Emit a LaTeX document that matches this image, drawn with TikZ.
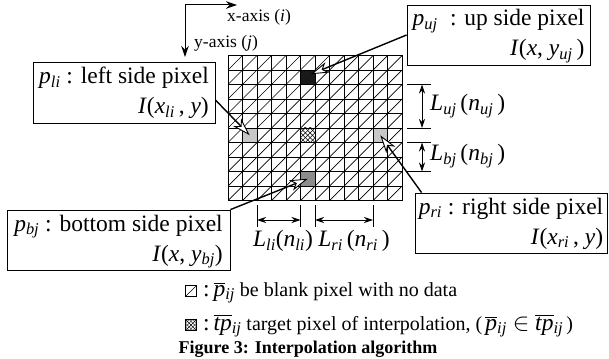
\documentclass[tikz,border=0pt]{standalone}
\usepackage{fontspec}
\setmainfont{Liberation Serif}
\usetikzlibrary{arrows.meta,calc}
\definecolor{lightcell}{RGB}{200,200,200}
\definecolor{midcell}{RGB}{140,140,140}
\definecolor{darkcell}{RGB}{25,25,25}
\newcommand\BigF{\fontsize{23.5}{30}\selectfont}
\newcommand\SmlF{\fontsize{20}{23}\selectfont}
\newcommand\AxF{\fontsize{17.5}{20}\selectfont}
\newcommand\isub[2]{\textit{#1}\textsubscript{\textit{#2}}}
\newcommand\obar[1]{$\overline{\hbox{\textit{#1}}}$}
\begin{document}
\begin{tikzpicture}[x=1pt,y=-1pt,
  gridln/.style={line width=0.8pt},
  diagln/.style={line width=0.7pt},
  cellbox/.style={draw, line width=0.8pt, minimum size=14.5pt, inner sep=0pt},
  box/.style={draw, line width=0.8pt, inner sep=0pt},
  conn/.style={line width=1.4pt, -{Stealth[length=18pt,width=11pt,inset=5pt,fill=white,line width=0.9pt]}},
  dim/.style={line width=1pt, {Stealth[length=9pt,width=6pt]}-{Stealth[length=9pt,width=6pt]}},
  ext/.style={line width=0.6pt},
  axis/.style={line width=1pt, -{Stealth[length=11pt,width=7.5pt]}},
  xhatch/.style={path picture={
     \foreach \k in {-2,...,2}{
       \draw[line width=0.5pt] ($(path picture bounding box.center)+(\k*4.83-14.5,14.5)$) -- ++(29,-29);
       \draw[line width=0.5pt] ($(path picture bounding box.center)+(\k*4.83-14.5,-14.5)$) -- ++(29,29);
     }}},
  slash/.style={path picture={\draw[line width=0.5pt] (path picture bounding box.south west) -- (path picture bounding box.north east);}},
]
\useasboundingbox (0,0) rectangle (609,358);
\def\s{14.5}\def\gx{228}\def\gy{55.5}
% grid diagonals
\foreach \c in {0,...,11}{\foreach \r in {0,...,9}{
  \draw[diagln] ({\gx+\c*\s},{\gy+(\r+1)*\s}) -- ({\gx+(\c+1)*\s},{\gy+\r*\s});}}
% grid lines
\foreach \c in {0,...,12}{\draw[gridln] ({\gx+\c*\s},\gy) -- ({\gx+\c*\s},{\gy+10*\s});}
\foreach \r in {0,...,10}{\draw[gridln] (\gx,{\gy+\r*\s}) -- ({\gx+12*\s},{\gy+\r*\s});}
% special cells
\node[cellbox, fill=darkcell] (pu) at ({\gx+5.5*\s},{\gy+1.5*\s}) {};
\node[cellbox, fill=lightcell] (pl) at ({\gx+1.5*\s},{\gy+5.5*\s}) {};
\node[cellbox, fill=lightcell] (pr) at ({\gx+10.5*\s},{\gy+5.5*\s}) {};
\node[cellbox, fill=midcell] (pb) at ({\gx+5.5*\s},{\gy+8.5*\s}) {};
\node[cellbox, fill=white, xhatch] (pt) at ({\gx+5.5*\s},{\gy+5.5*\s}) {};
% axes
\coordinate (o) at (185,5);
\coordinate (xe) at (237,5);
\coordinate (ye) at (185,57);
\draw[axis] (o) -- (xe);
\draw[axis] (o) -- (ye);
\node[anchor=west, font=\AxF, inner sep=0pt] (xl) at (227,17) {x-axis (\textit{i})};
\node[anchor=west, font=\AxF, inner sep=0pt] (yl) at (194,43) {y-axis (\textit{j})};
% boxes
\node[box, minimum width=182pt, minimum height=61pt] (lbox) at (124,92.5)
 {\BigF\begin{tabular}{@{}l@{}}\isub{p}{li} : left side pixel\\ \multicolumn{1}{@{}r@{}}{\textit{I}(\isub{x}{li}\,, \textit{y})}\end{tabular}};
\node[box, minimum width=183pt, minimum height=60pt] (ubox) at (498.5,35)
 {\BigF\begin{tabular}{@{}l@{}}\isub{p}{uj}\; : up side pixel\\ \multicolumn{1}{@{}r@{}}{\textit{I}(\textit{x}, \isub{y}{uj}\,)}\end{tabular}};
\node[box, minimum width=223pt, minimum height=56pt] (bbox) at (118.5,240)
 {\BigF\begin{tabular}{@{}l@{}}\isub{p}{bj} : bottom side pixel\\ \multicolumn{1}{@{}r@{}}{\textit{I}(\textit{x}, \isub{y}{bj})}\end{tabular}};
\node[box, minimum width=192pt, minimum height=60pt] (rbox) at (511,223)
 {\BigF\begin{tabular}{@{}l@{}}\isub{p}{ri} : right side pixel\\ \multicolumn{1}{@{}r@{}}{\textit{I}(\isub{x}{ri}\,, \textit{y})}\end{tabular}};
% connectors
\draw[conn] ($(lbox.east)+(0,7.5)$) -- (pl.center);
\draw[conn] (ubox.west) -- ($(pu.center)+(3,-3)$);
\draw[conn] (bbox.north east) -- (pb.center);
\draw[conn] ($(rbox.north west)+(7,0)$) -- (pr.center);
% dimension lines
\coordinate (u1) at (422,84.5); \coordinate (u2) at (422,128);
\coordinate (b1) at (422,142.5); \coordinate (b2) at (422,171.5);
\coordinate (l1) at (257,220); \coordinate (l2) at (300.5,220);
\coordinate (r1) at (315,220); \coordinate (r2) at (373,220);
\foreach \yy in {84.5,128,142.5,171.5}{\draw[ext] (407,\yy) -- (431,\yy);}
\foreach \xx in {257,300.5,315,373}{\draw[ext] (\xx,205) -- (\xx,227);}
\draw[dim] (u1) -- (u2);
\draw[dim] (b1) -- (b2);
\draw[dim] (l1) -- (l2);
\draw[dim] (r1) -- (r2);
\node[anchor=west, font=\BigF, inner sep=0pt] (luj) at (430,106) {\isub{L}{uj}\,(\isub{n}{uj}\,)};
\node[anchor=west, font=\BigF, inner sep=0pt] (lbj) at (430,156) {\isub{L}{bj}\,(\isub{n}{bj}\,)};
\node[font=\BigF, inner sep=0pt] (lli) at (283,241) {\isub{L}{li}(\isub{n}{li})};
\node[font=\BigF, inner sep=0pt] (lri) at (354,241) {\isub{L}{ri}\,(\isub{n}{ri}\,)};
% legend
\node[draw, line width=0.6pt, minimum size=11pt, inner sep=0pt, slash] (ic1) at (191,291) {};
\node[draw, line width=0.6pt, minimum size=11pt, inner sep=0pt, path picture={
     \foreach \k in {-2,...,2}{
       \draw[line width=0.4pt] ($(path picture bounding box.center)+(\k*3.67-11,11)$) -- ++(22,-22);
       \draw[line width=0.4pt] ($(path picture bounding box.center)+(\k*3.67-11,-11)$) -- ++(22,22);
     }}] (ic2) at (191,325) {};
\node[anchor=base west, font=\SmlF, inner sep=0pt] (lg1) at (199,296)
 {{\BigF\,:\,\obar{p}\textsubscript{\textit{ij}}} be blank pixel with no data};
\node[anchor=base west, font=\SmlF, inner sep=0pt] (lg2) at (199,330)
 {{\BigF\,:\,\obar{tp}\textsubscript{\textit{ij}}} target pixel of interpolation,\ (\,{\BigF\obar{p}\textsubscript{\textit{ij}} $\in$ \obar{tp}\textsubscript{\textit{ij}}}\,)};
\node[anchor=base, font=\fontsize{18}{22}\selectfont\bfseries, inner sep=0pt] (cap) at (308,353) {Figure 3: Interpolation algorithm};
\end{tikzpicture}
\end{document}
